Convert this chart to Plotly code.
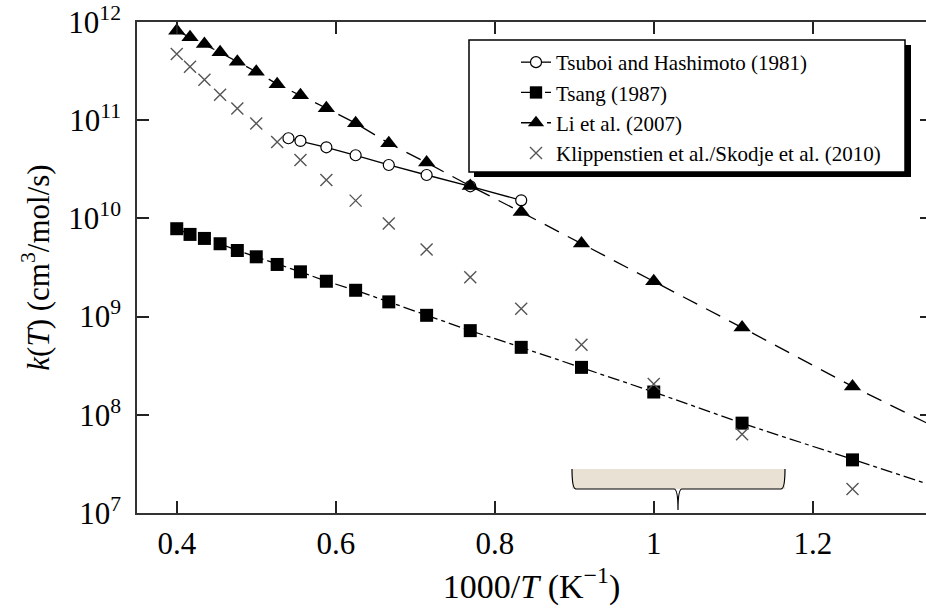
import plotly.graph_objects as go

# ---------------- data ----------------
x_all = [0.4, 0.4167, 0.4348, 0.4545, 0.4762, 0.5, 0.5263, 0.5556, 0.5882,
         0.625, 0.6667, 0.7143, 0.7692, 0.8333, 0.9091, 1.0, 1.1111, 1.25]

# Tsuboi and Hashimoto (1981)
tsuboi_x = [0.5405, 0.5556, 0.5882, 0.625, 0.6667, 0.7143, 0.7692, 0.8333]
tsuboi_logk = [10.816, 10.789, 10.724, 10.643, 10.544, 10.442, 10.327, 10.184]

# Tsang (1987)
tsang_logk = [9.895, 9.837, 9.796, 9.742, 9.673, 9.609, 9.531, 9.456, 9.360,
              9.268, 9.150, 9.013, 8.857, 8.687, 8.483, 8.232, 7.915, 7.541]
tsang_fit_end_x = 1.35
tsang_fit_end_logk = 7.28

# Li et al. (2007)
li_logk = [11.911, 11.844, 11.776, 11.691, 11.595, 11.493, 11.367, 11.255, 11.122,
           10.969, 10.765, 10.568, 10.330, 10.064, 9.745, 9.360, 8.888, 8.289]
li_fit_end_x = 1.35
li_fit_end_logk = 7.89

# Klippenstien et al./Skodje et al. (2010)
klip_logk = [11.673, 11.544, 11.411, 11.258, 11.119, 10.966, 10.779, 10.595, 10.391,
             10.181, 9.949, 9.684, 9.401, 9.079, 8.714, 8.313, 7.803, 7.245]

x_tickvals = [0.4, 0.6, 0.8, 1.0, 1.2]
x_ticktext = ["0.4", "0.6", "0.8", "1", "1.2"]
y_exponents = [7, 8, 9, 10, 11, 12]

names = ["Tsuboi and Hashimoto (1981)", "Tsang (1987)", "Li et al. (2007)",
         "Klippenstien et al./Skodje et al. (2010)"]

# ---------------- figure ----------------
def pw(v):
    return [10 ** a for a in v]

W, H = 926, 610
L, R, T, B = 137, 0, 22, 97
pl_w = W - L - R
pl_h = H - T - B

def px(xp):
    return (xp - L) / pl_w

def py(yp):
    return (H - B - yp) / pl_h

FONT = "'Liberation Serif', 'Times New Roman', Times, serif"
fig = go.Figure()

fig.add_trace(go.Scatter(
    x=tsuboi_x, y=pw(tsuboi_logk), name=names[0], mode="lines+markers",
    line=dict(color="black", width=1.3),
    marker=dict(symbol="circle", size=11, color="white", opacity=1,
                line=dict(color="black", width=1.2))))

n = len(x_all)
fig.add_trace(go.Scatter(
    x=x_all + [tsang_fit_end_x], y=pw(tsang_logk + [tsang_fit_end_logk]),
    name=names[1], mode="lines+markers",
    line=dict(color="black", width=1.3, dash="12px,4px,4px,4px"),
    marker=dict(symbol="square", size=[13] * n + [0], color="black",
                opacity=1, line=dict(width=0))))

fig.add_trace(go.Scatter(
    x=x_all + [li_fit_end_x], y=pw(li_logk + [li_fit_end_logk]),
    name=names[2], mode="lines+markers",
    line=dict(color="black", width=1.3, dash="16px,10px"),
    marker=dict(symbol="triangle-up", size=[15] * n + [0], color="black",
                opacity=1, line=dict(width=0))))

fig.add_trace(go.Scatter(
    x=x_all, y=pw(klip_logk), name=names[3], mode="markers",
    marker=dict(symbol="x-thin-open", size=12, color="#555", opacity=1,
                line=dict(color="#555", width=1.4))))

# dummy trace on right axis (for right-side inner ticks)
fig.add_trace(go.Scatter(x=[None], y=[None], yaxis="y2", showlegend=False,
                         hoverinfo="skip"))

shapes = [
    # legend shadow and box
    dict(type="rect", xref="paper", yref="paper", layer="above",
         x0=px(474), x1=px(911), y0=py(177), y1=py(45),
         fillcolor="black", line=dict(width=0)),
    dict(type="rect", xref="paper", yref="paper", layer="above",
         x0=px(469), x1=px(905), y0=py(172), y1=py(40),
         fillcolor="white", line=dict(color="black", width=1.5)),
    # beige box with brace
    dict(type="rect", xref="paper", yref="paper", layer="above",
         x0=px(572), x1=px(785), y0=py(489), y1=py(469),
         fillcolor="#e9e2d4", line=dict(width=0)),
]
bx0, bx1, bxm = px(572), px(785), px(678)
by_top, by_bot, by_tip = py(469), py(489), py(510)
d = 4 / pl_w
brace = (f"M {bx0},{by_top} Q {bx0},{by_bot} {bx0 + d},{by_bot} "
         f"L {bxm - d},{by_bot} Q {bxm},{by_bot} {bxm},{by_tip} "
         f"Q {bxm},{by_bot} {bxm + d},{by_bot} "
         f"L {bx1 - d},{by_bot} Q {bx1},{by_bot} {bx1},{by_top}")
shapes.append(dict(type="path", xref="paper", yref="paper", layer="above",
                   path=brace, line=dict(color="black", width=1.2)))

axis_common = dict(showgrid=False, zeroline=False, ticks="inside", ticklen=12,
                   tickwidth=1.5, tickcolor="#222", showline=True,
                   linecolor="#333", linewidth=1.5,
                   tickfont=dict(family=FONT, size=31, color="black"))

fig.update_layout(
    width=W, height=H,
    margin=dict(l=L, r=R, t=T, b=B),
    paper_bgcolor="white", plot_bgcolor="white",
    font=dict(family=FONT, color="black"),
    showlegend=True,
    shapes=shapes,
    xaxis=dict(range=[0.35, 0.35 + pl_w / 795.0], tickvals=x_tickvals,
               ticktext=x_ticktext, mirror="ticks", ticklabelstandoff=2,
               title=dict(text="1000/<i>T</i> (K<sup>−1</sup>)",
                          font=dict(family=FONT, size=34), standoff=14),
               **axis_common),
    yaxis=dict(type="log", range=[7, 12],
               tickvals=[10 ** e for e in y_exponents],
               ticktext=[f"10<sup>{e}</sup>" for e in y_exponents],
               ticklabelstandoff=8,
               title=dict(text="<i>k</i>(<i>T</i>) (cm<sup>3</sup>/mol/s)",
                          font=dict(family=FONT, size=31), standoff=10),
               **axis_common),
    yaxis2=dict(type="log", range=[7, 12], overlaying="y", side="right",
                tickvals=[10 ** e for e in y_exponents], showticklabels=False,
                ticks="inside", ticklen=6, tickwidth=1.5, tickcolor="#222",
                showline=False, showgrid=False, zeroline=False),
    legend=dict(x=px(516), y=py(42), xanchor="left", yanchor="top",
                bgcolor="rgba(0,0,0,0)", borderwidth=0,
                font=dict(family=FONT, size=21, color="black"),
                tracegroupgap=0),
)

fig.write_html("out.html")
